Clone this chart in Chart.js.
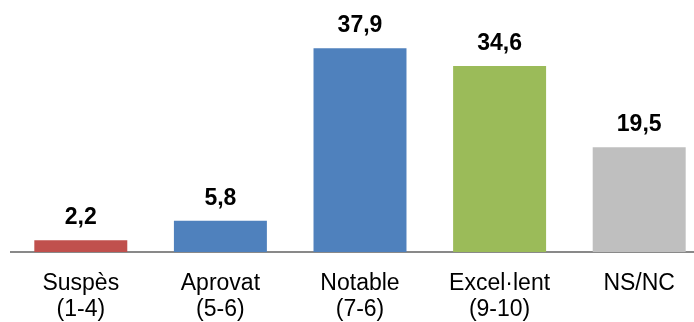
<!DOCTYPE html>
<html>
<head>
<meta charset="utf-8">
<script src="https://cdn.jsdelivr.net/npm/chart.js@4"></script>
<style>
  html, body { margin: 0; padding: 0; overflow: hidden; background: #fff; }
  canvas { display: block; }
</style>
</head>
<body>
<canvas id="chart-notes" width="710" height="322"></canvas>
<script>
const categories = [["Suspès", "(1-4)"], ["Aprovat", "(5-6)"], ["Notable", "(7-6)"], ["Excel·lent", "(9-10)"], "NS/NC"];
const percentages = [2.2, 5.8, 37.9, 34.6, 19.5];
const barColors = ["#C0504D", "#4F81BD", "#4F81BD", "#9BBB59", "#BFBFBF"];

const ctxNotes = document.getElementById("chart-notes");

// value labels above each bar, with decimal comma
const valueLabels = {
    id: "valueLabels",
    afterDatasetsDraw(chart) {
        const ctx = chart.ctx;
        const meta = chart.getDatasetMeta(0);
        ctx.save();
        ctx.font = "bold 23px 'Liberation Sans', Arial, sans-serif";
        ctx.fillStyle = "#000";
        ctx.textAlign = "center";
        ctx.textBaseline = "alphabetic";
        meta.data.forEach((bar, i) => {
            const txt = percentages[i].toFixed(1).replace(".", ",");
            ctx.fillText(txt, bar.x, bar.y - 16);
        });
        ctx.restore();
    },
};

new Chart(ctxNotes, {
    type: "bar",
    data: {
        labels: categories,
        datasets: [
            {
                data: percentages,
                backgroundColor: barColors,
                borderWidth: 0,
                categoryPercentage: 1,
                barPercentage: 0.666,
            },
        ],
    },
    options: {
        responsive: false,
        animation: false,
        layout: {
            padding: { left: 11, right: 1, top: 10, bottom: 0 },
        },
        plugins: {
            legend: { display: false },
            tooltip: { enabled: false },
        },
        scales: {
            x: {
                grid: { display: false, drawTicks: false },
                border: { display: true, color: "#898989", width: 2 },
                ticks: {
                    color: "#000",
                    padding: 19,
                    font: { family: "'Liberation Sans', Arial, sans-serif", size: 23, lineHeight: 1.13 },
                    maxRotation: 0,
                    autoSkip: false,
                },
                afterFit: (scale) => { scale.height = 70; },
            },
            y: {
                display: false,
                min: 0,
                max: 45,
            },
        },
    },
    plugins: [valueLabels],
});
</script>
</body>
</html>
